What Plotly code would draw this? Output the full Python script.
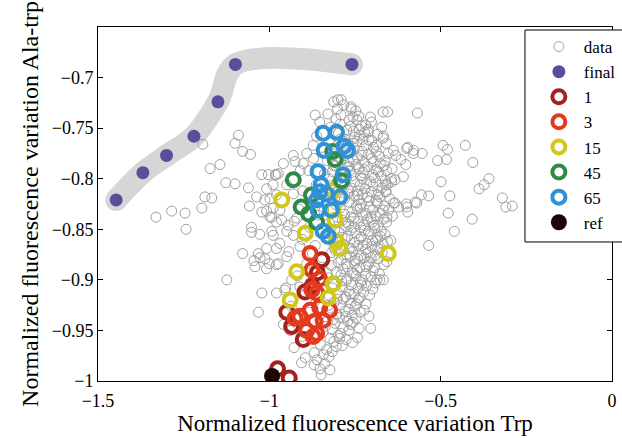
import plotly.graph_objects as go

FONT = "Liberation Serif"

# ---- data ----
# gray "data" cloud: outliers on the left
data_left = [
    (-1.090, -0.757), (-1.100, -0.765), (-1.078, -0.773), (-1.055, -0.776), (-1.194, -0.766),
    (-1.173, -0.790), (-1.144, -0.786), (-1.127, -0.804), (-1.100, -0.805), (-1.061, -0.809),
    (-1.188, -0.818), (-1.168, -0.819), (-1.197, -0.829), (-1.246, -0.834), (-1.285, -0.832),
    (-1.331, -0.838), (-1.243, -0.850), (-1.022, -0.796), (-1.003, -0.796), (-0.980, -0.796),
    (-1.008, -0.810), (-1.013, -0.821), (-1.058, -0.827), (-1.008, -0.832), (-0.993, -0.838),
    (-1.052, -0.848), (-0.979, -0.843), (-0.993, -0.852), (-1.078, -0.874), (-1.042, -0.887),
    (-1.032, -0.874), (-1.013, -0.879), (-1.000, -0.884), (-1.008, -0.869), (-0.979, -0.885),
    (-1.124, -0.900), (-1.022, -0.913), (-1.032, -0.932), (-0.979, -0.913), (-1.052, -0.853),
    (-1.028, -0.855), (-0.989, -0.856), (-0.979, -0.869), (-1.037, -0.818), (-0.998, -0.820),
    (-1.022, -0.833), (-0.998, -0.838), (-1.045, -0.881), (-1.027, -0.878), (-1.008, -0.889),
    (-0.949, -0.852), (-0.930, -0.856), (-0.969, -0.864), (-0.949, -0.877), (-0.974, -0.884),
    (-0.911, -0.867), (-0.935, -0.900), (-0.911, -0.907), (-0.955, -0.910),
]
# gray outliers on the right
data_right = [
    (-0.655, -0.734), (-0.568, -0.735), (-0.596, -0.769), (-0.579, -0.772), (-0.631, -0.777),
    (-0.616, -0.781), (-0.602, -0.786), (-0.554, -0.775), (-0.493, -0.767), (-0.480, -0.771),
    (-0.483, -0.781), (-0.509, -0.782), (-0.428, -0.767), (-0.406, -0.784), (-0.662, -0.782),
    (-0.643, -0.803), (-0.660, -0.806), (-0.660, -0.813), (-0.499, -0.803), (-0.556, -0.816),
    (-0.535, -0.817), (-0.574, -0.823), (-0.600, -0.825), (-0.596, -0.833), (-0.633, -0.824),
    (-0.623, -0.828), (-0.657, -0.838), (-0.473, -0.817), (-0.478, -0.834), (-0.408, -0.840),
    (-0.460, -0.852), (-0.388, -0.810), (-0.373, -0.806), (-0.359, -0.800), (-0.320, -0.819),
    (-0.310, -0.828), (-0.291, -0.827), (-0.655, -0.862), (-0.535, -0.866), (-0.667, -0.900),
    (-0.638, -0.772), (-0.599, -0.770), (-0.580, -0.775), (-0.658, -0.792), (-0.633, -0.801),
    (-0.609, -0.798), (-0.638, -0.824), (-0.599, -0.828), (-0.570, -0.824), (-0.677, -0.900),
]
# gray points at the top / left flank of the main cluster
data_top = [
    (-0.800, -0.722), (-0.790, -0.722), (-0.866, -0.737), (-0.761, -0.731), (-0.756, -0.739),
    (-0.712, -0.754), (-0.688, -0.767), (-0.668, -0.734), (-0.668, -0.760), (-0.872, -0.767),
    (-0.930, -0.777), (-0.959, -0.785), (-0.910, -0.792), (-0.983, -0.796), (-0.974, -0.795),
    (-0.949, -0.806), (-0.979, -0.816), (-0.989, -0.829), (-0.945, -0.846), (-0.891, -0.775),
    (-0.925, -0.783), (-0.901, -0.785), (-0.989, -0.806), (-0.930, -0.815), (-0.969, -0.831),
    (-0.964, -0.841), (-0.920, -0.839),
]
# gray points of the dense core
data_core = [
    (-0.812, -0.724), (-0.783, -0.727),
    (-0.801, -0.731), (-0.762, -0.729),
    (-0.829, -0.736), (-0.748, -0.733), (-0.739, -0.738),
    (-0.806, -0.741), (-0.791, -0.737), (-0.744, -0.742), (-0.705, -0.739),
    (-0.853, -0.744), (-0.793, -0.746), (-0.767, -0.742), (-0.719, -0.747), (-0.702, -0.744),
    (-0.821, -0.749), (-0.774, -0.752), (-0.731, -0.748), (-0.711, -0.751), (-0.672, -0.749),
    (-0.798, -0.755), (-0.755, -0.753), (-0.737, -0.757), (-0.722, -0.754), (-0.684, -0.756),
    (-0.862, -0.758), (-0.779, -0.761), (-0.751, -0.759), (-0.701, -0.762), (-0.667, -0.758),
    (-0.826, -0.764), (-0.794, -0.761), (-0.771, -0.766), (-0.744, -0.763), (-0.718, -0.767), (-0.709, -0.762), (-0.658, -0.765),
    (-0.846, -0.769), (-0.803, -0.771), (-0.786, -0.768), (-0.752, -0.770), (-0.729, -0.773), (-0.696, -0.769), (-0.688, -0.773),
    (-0.817, -0.775), (-0.779, -0.777), (-0.761, -0.774), (-0.743, -0.779), (-0.711, -0.776), (-0.679, -0.778), (-0.653, -0.775),
    (-0.871, -0.780), (-0.831, -0.782), (-0.797, -0.779), (-0.768, -0.783), (-0.755, -0.781), (-0.724, -0.784), (-0.701, -0.780), (-0.676, -0.785),
    (-0.807, -0.787), (-0.772, -0.789), (-0.747, -0.786), (-0.738, -0.790), (-0.713, -0.788), (-0.689, -0.791), (-0.665, -0.787), (-0.642, -0.790),
    (-0.885, -0.792), (-0.839, -0.795), (-0.816, -0.793), (-0.781, -0.796), (-0.764, -0.792), (-0.734, -0.797), (-0.726, -0.794), (-0.698, -0.796), (-0.681, -0.793),
    (-0.826, -0.800), (-0.801, -0.802), (-0.775, -0.799), (-0.751, -0.803), (-0.729, -0.800), (-0.705, -0.803), (-0.694, -0.799), (-0.662, -0.802), (-0.644, -0.800),
    (-0.863, -0.806), (-0.812, -0.808), (-0.779, -0.805), (-0.762, -0.809), (-0.735, -0.806), (-0.721, -0.810), (-0.697, -0.807), (-0.671, -0.809), (-0.655, -0.806),
    (-0.902, -0.812), (-0.835, -0.814), (-0.798, -0.811), (-0.771, -0.815), (-0.743, -0.812), (-0.728, -0.816), (-0.702, -0.813), (-0.683, -0.816), (-0.659, -0.813),
    (-0.819, -0.818), (-0.781, -0.820), (-0.752, -0.817), (-0.739, -0.821), (-0.715, -0.818), (-0.688, -0.822), (-0.678, -0.818), (-0.648, -0.820),
    (-0.872, -0.824), (-0.805, -0.826), (-0.768, -0.823), (-0.746, -0.827), (-0.731, -0.825), (-0.707, -0.828), (-0.685, -0.824), (-0.664, -0.827),
    (-0.914, -0.830), (-0.841, -0.832), (-0.793, -0.829), (-0.759, -0.833), (-0.742, -0.830), (-0.719, -0.834), (-0.698, -0.831), (-0.676, -0.834), (-0.652, -0.831),
    (-0.857, -0.836), (-0.802, -0.838), (-0.781, -0.835), (-0.753, -0.839), (-0.728, -0.836), (-0.713, -0.840), (-0.689, -0.837), (-0.667, -0.840), (-0.641, -0.837),
    (-0.927, -0.842), (-0.825, -0.844), (-0.787, -0.841), (-0.769, -0.845), (-0.741, -0.842), (-0.724, -0.846), (-0.699, -0.843), (-0.681, -0.846), (-0.658, -0.843),
    (-0.883, -0.848), (-0.809, -0.850), (-0.777, -0.847), (-0.762, -0.851), (-0.734, -0.848), (-0.711, -0.852), (-0.692, -0.849), (-0.673, -0.852),
    (-0.849, -0.854), (-0.818, -0.856), (-0.796, -0.853), (-0.771, -0.857), (-0.748, -0.854), (-0.732, -0.858), (-0.706, -0.855), (-0.684, -0.858), (-0.662, -0.855),
    (-0.904, -0.860), (-0.797, -0.862), (-0.779, -0.859), (-0.751, -0.863), (-0.738, -0.860), (-0.716, -0.864), (-0.689, -0.861), (-0.669, -0.864), (-0.646, -0.861),
    (-0.866, -0.866), (-0.811, -0.868), (-0.783, -0.865), (-0.766, -0.869), (-0.741, -0.866), (-0.719, -0.870), (-0.701, -0.867), (-0.678, -0.870),
    (-0.943, -0.872), (-0.874, -0.874), (-0.807, -0.871), (-0.775, -0.875), (-0.756, -0.872), (-0.733, -0.876), (-0.712, -0.873), (-0.691, -0.876), (-0.671, -0.873),
    (-0.845, -0.878), (-0.791, -0.880), (-0.764, -0.877), (-0.749, -0.881), (-0.723, -0.878), (-0.708, -0.882), (-0.681, -0.879), (-0.657, -0.882),
    (-0.891, -0.884), (-0.819, -0.886), (-0.799, -0.883), (-0.772, -0.887), (-0.751, -0.884), (-0.736, -0.888), (-0.711, -0.885), (-0.693, -0.888), (-0.666, -0.885),
    (-0.861, -0.890), (-0.804, -0.892), (-0.785, -0.889), (-0.758, -0.893), (-0.744, -0.890), (-0.719, -0.894), (-0.697, -0.891), (-0.679, -0.894),
    (-0.918, -0.896), (-0.828, -0.898), (-0.791, -0.895), (-0.773, -0.899), (-0.747, -0.896), (-0.729, -0.900), (-0.703, -0.897), (-0.686, -0.900),
    (-0.879, -0.902), (-0.813, -0.904), (-0.776, -0.901), (-0.761, -0.905), (-0.734, -0.902), (-0.717, -0.906), (-0.691, -0.903),
    (-0.952, -0.908), (-0.846, -0.910), (-0.789, -0.907), (-0.768, -0.911), (-0.741, -0.908), (-0.725, -0.912), (-0.698, -0.909),
    (-0.896, -0.914), (-0.825, -0.916), (-0.801, -0.913), (-0.777, -0.917), (-0.753, -0.914), (-0.736, -0.918), (-0.707, -0.915),
    (-0.864, -0.920), (-0.811, -0.922), (-0.784, -0.919), (-0.762, -0.923), (-0.741, -0.920), (-0.718, -0.924),
    (-0.936, -0.926), (-0.819, -0.928), (-0.793, -0.925), (-0.768, -0.929), (-0.749, -0.926), (-0.723, -0.930),
    (-0.883, -0.932), (-0.803, -0.934), (-0.779, -0.931), (-0.758, -0.935), (-0.735, -0.932), (-0.709, -0.936),
    (-0.914, -0.938), (-0.829, -0.940), (-0.795, -0.937), (-0.771, -0.941), (-0.747, -0.938),
    (-0.959, -0.944), (-0.837, -0.946), (-0.808, -0.943), (-0.784, -0.947), (-0.762, -0.944), (-0.738, -0.948),
    (-0.939, -0.950), (-0.844, -0.952), (-0.816, -0.949), (-0.792, -0.953), (-0.768, -0.950), (-0.704, -0.948),
    (-0.905, -0.956), (-0.823, -0.958), (-0.799, -0.955), (-0.776, -0.959), (-0.743, -0.957),
    (-0.851, -0.964), (-0.812, -0.961), (-0.787, -0.965), (-0.757, -0.962),
    (-0.928, -0.967), (-0.833, -0.969), (-0.805, -0.966),
    (-0.869, -0.972), (-0.842, -0.974), (-0.816, -0.971),
    (-0.895, -0.977), (-0.861, -0.979), (-0.826, -0.976),
    (-0.906, -0.982), (-0.869, -0.984), (-0.838, -0.983),
    (-0.852, -0.988), (-0.823, -0.989), (-0.849, -0.994),
]
# extra gray points filling the darkest middle part of the cloud
data_core2 = [
    (-0.787, -0.803), (-0.758, -0.797), (-0.716, -0.805), (-0.741, -0.816), (-0.768, -0.812),
    (-0.709, -0.822), (-0.793, -0.823), (-0.735, -0.829), (-0.762, -0.838), (-0.704, -0.838),
    (-0.776, -0.843), (-0.722, -0.851), (-0.754, -0.848), (-0.788, -0.858), (-0.727, -0.866),
    (-0.761, -0.869), (-0.699, -0.861), (-0.742, -0.879), (-0.776, -0.884), (-0.718, -0.887),
    (-0.753, -0.894), (-0.789, -0.901), (-0.731, -0.905), (-0.764, -0.914), (-0.801, -0.919),
    (-0.745, -0.924), (-0.777, -0.936), (-0.813, -0.939), (-0.756, -0.942), (-0.795, -0.958),
    (-0.768, -0.788), (-0.731, -0.777), (-0.756, -0.765), (-0.791, -0.781), (-0.722, -0.791),
    (-0.697, -0.783), (-0.674, -0.797), (-0.683, -0.812), (-0.668, -0.831), (-0.694, -0.846),
    (-0.676, -0.857), (-0.703, -0.878), (-0.684, -0.868), (-0.738, -0.751), (-0.763, -0.748),
    (-0.727, -0.761), (-0.782, -0.763), (-0.813, -0.787), (-0.821, -0.807), (-0.826, -0.853),
    (-0.818, -0.873), (-0.832, -0.893), (-0.816, -0.908), (-0.826, -0.925),
]
data_pts = data_left + data_right + data_top + data_core + data_core2

# "final" trajectory (purple dots on the gray band)
final_x = [-1.447, -1.369, -1.300, -1.220, -1.150, -1.099, -0.759]
final_y = [-0.821, -0.794, -0.777, -0.758, -0.724, -0.687, -0.687]

# generation 1 (dark red)
g1_x = [-0.847, -0.875, -0.896, -0.949, -0.935, -0.901, -0.860, -0.976, -0.942]
g1_y = [-0.880, -0.906, -0.912, -0.932, -0.946, -0.959, -0.893, -0.988, -0.997]

# generation 3 (red)
g3_x = [-0.881, -0.876, -0.853, -0.876, -0.862, -0.911, -0.881, -0.853, -0.824,
        -0.891, -0.862, -0.872, -0.925, -0.843, -0.867]
g3_y = [-0.874, -0.890, -0.899, -0.910, -0.913, -0.936, -0.930, -0.927, -0.930,
        -0.950, -0.953, -0.956, -0.938, -0.940, -0.941]

# generation 15 (yellow)
g15_x = [-0.964, -0.895, -0.804, -0.794, -0.814, -0.808, -0.653, -0.920, -0.814,
         -0.828, -0.939, -0.815]
g15_y = [-0.821, -0.854, -0.862, -0.869, -0.831, -0.841, -0.874, -0.892, -0.904,
         -0.918, -0.920, -0.812]

# generation 45 (green)
g45_x = [-0.930, -0.907, -0.877, -0.808, -0.815, -0.789, -0.862, -0.885]
g45_y = [-0.801, -0.828, -0.816, -0.781, -0.773, -0.802, -0.843, -0.835]

# generation 65 (blue)
g65_x = [-0.843, -0.804, -0.840, -0.782, -0.772, -0.858, -0.785, -0.849, -0.853,
         -0.794, -0.862, -0.858, -0.819, -0.843, -0.828, -0.833]
g65_y = [-0.755, -0.754, -0.772, -0.768, -0.772, -0.793, -0.796, -0.806, -0.813,
         -0.818, -0.821, -0.831, -0.831, -0.852, -0.857, -0.815]

# reference point (black)
ref_x = [-0.992]
ref_y = [-0.995]

x_ticks = [-1.5, -1.0, -0.5, 0.0]
x_labels = ["\u22121.5", "\u22121", "\u22120.5", "0"]
y_ticks = [-1.0, -0.95, -0.9, -0.85, -0.8, -0.75, -0.7]
y_labels = ["\u22121", "\u22120.95", "\u22120.9", "\u22120.85", "\u22120.8", "\u22120.75", "\u22120.7"]

data_x = [p[0] for p in data_pts]
data_y = [p[1] for p in data_pts]

fig = go.Figure()

# gray band behind the final trajectory
fig.add_trace(go.Scatter(
    x=final_x, y=final_y, mode="lines+markers",
    line=dict(color="#d6d6d6", width=22, shape="spline", smoothing=1.0),
    marker=dict(color="#d6d6d6", size=22),
    showlegend=False, hoverinfo="skip"))

fig.add_trace(go.Scatter(
    x=data_x, y=data_y, mode="markers", name="data",
    marker=dict(symbol="circle-open", size=10, color="#a0a0a0", line=dict(width=1))))

fig.add_trace(go.Scatter(
    x=final_x, y=final_y, mode="markers", name="final",
    marker=dict(symbol="circle", size=13, color="#5a4e9c")))

ring_series = [
    ("1", g1_x, g1_y, "#a3221e"),
    ("3", g3_x, g3_y, "#e2391f"),
    ("15", g15_x, g15_y, "#cfc816"),
    ("45", g45_x, g45_y, "#2e8b47"),
    ("65", g65_x, g65_y, "#2f91d6"),
]
for name, xs, ys, col in ring_series:
    fig.add_trace(go.Scatter(
        x=xs, y=ys, mode="markers", name=name,
        marker=dict(symbol="circle-open", size=13, color=col, line=dict(width=4))))

fig.add_trace(go.Scatter(
    x=ref_x, y=ref_y, mode="markers", name="ref",
    marker=dict(symbol="circle", size=16, color="#1c0606")))

axis_common = dict(
    showline=True, linecolor="black", linewidth=1, mirror="ticks",
    ticks="inside", ticklen=5, tickcolor="black", tickwidth=1,
    showgrid=False, zeroline=False,
    tickfont=dict(family=FONT, size=18, color="black"),
)

fig.update_xaxes(range=[-1.5, 0], tickvals=x_ticks, ticktext=x_labels,
                 ticklabelstandoff=3,
                 title=dict(text="Normalized fluorescence variation Trp",
                            font=dict(family=FONT, size=23, color="black"), standoff=4),
                 **axis_common)
fig.update_yaxes(range=[-1.0, -0.65], tickvals=y_ticks, ticktext=y_labels,
                 title=dict(text="Normalized fluorescence variation Ala-trp",
                            font=dict(family=FONT, size=24, color="black"), standoff=6),
                 **axis_common)

# legend frame
fig.add_shape(type="rect", xref="paper", yref="paper",
              x0=0.8307, x1=1.1, y0=0.3927, y1=0.9915,
              line=dict(color="black", width=1), fillcolor="white", layer="above")

fig.update_layout(
    width=622, height=438,
    margin=dict(l=98, r=10, t=27, b=57, autoexpand=False),
    paper_bgcolor="white", plot_bgcolor="white",
    font=dict(family=FONT, color="black"),
    legend=dict(x=0.848, y=0.9944, xanchor="left", yanchor="top",
                bgcolor="rgba(0,0,0,0)", borderwidth=0,
                font=dict(family=FONT, size=17, color="black"),
                itemwidth=40, tracegroupgap=0),
)

fig.write_html("out.html")
